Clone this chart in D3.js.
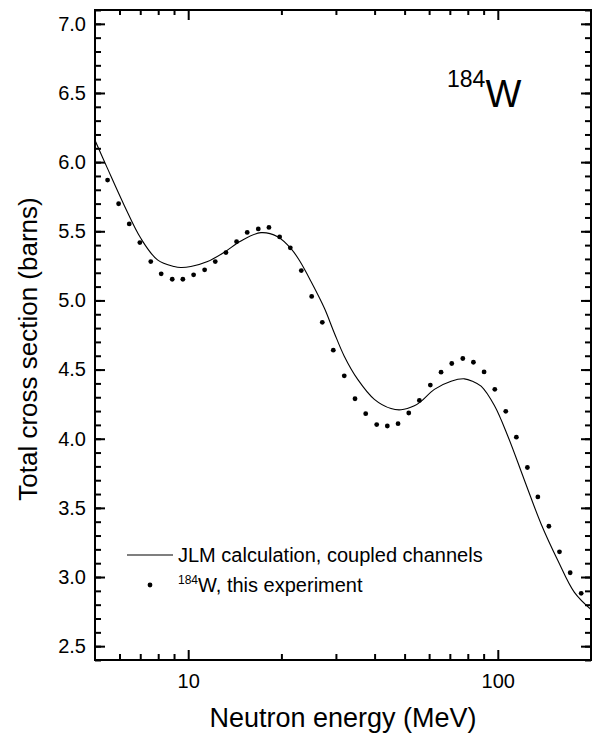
<!DOCTYPE html>
<html>
<head>
<meta charset="utf-8">
<script src="https://cdn.jsdelivr.net/npm/d3@7"></script>
<style>
  body { margin: 0; background: #fff; }
  svg { display: block; font-family: Arial, "Liberation Sans", sans-serif; }
</style>
</head>
<body>
<svg id="chart" width="598" height="735"></svg>
<script>
// measured points, 184W total cross section
var expEnergy = [5.49, 5.96, 6.45, 6.98, 7.57, 8.18, 8.88, 9.61, 10.41, 11.30,
  12.23, 13.24, 14.33, 15.51, 16.84, 18.23, 19.74, 21.37, 23.19, 25.05,
  27.11, 29.42, 31.92, 34.58, 37.44, 40.63, 43.97, 47.62, 51.57, 55.80,
  60.55, 65.57, 71.01, 77.08, 83.41, 90.30, 97.79, 106.1, 114.8, 124.6,
  134.7, 146.2, 158.2, 171.3, 185.9];
var expSigma = [5.870, 5.699, 5.553, 5.418, 5.281, 5.192, 5.153, 5.153, 5.185, 5.221,
  5.281, 5.346, 5.425, 5.492, 5.517, 5.528, 5.459, 5.380, 5.216, 5.029,
  4.842, 4.640, 4.455, 4.289, 4.181, 4.102, 4.092, 4.109, 4.186, 4.277,
  4.388, 4.481, 4.544, 4.580, 4.553, 4.483, 4.357, 4.198, 4.011, 3.792,
  3.579, 3.367, 3.182, 3.031, 2.882];

// JLM calculation, coupled channels
var calcEnergy = [5.0, 5.49, 6.21, 7.03, 7.96, 9.01, 9.47, 10.20, 11.55, 13.07,
  14.80, 17.18, 19.45, 21.48, 22.85, 24.93, 27.52, 29.64, 31.92, 35.28,
  39.93, 45.20, 48.70, 53.76, 56.50, 62.39, 70.65, 78.00, 83.0, 88.31,
  97.5, 107.7, 121.9, 138.0, 156.3, 176.8, 200];
var calcSigma = [6.158, 5.953, 5.689, 5.449, 5.293, 5.245, 5.238, 5.245, 5.281, 5.348,
  5.430, 5.490, 5.461, 5.375, 5.290, 5.137, 4.945, 4.765, 4.597, 4.429,
  4.285, 4.218, 4.209, 4.238, 4.270, 4.357, 4.416, 4.433, 4.415, 4.380,
  4.240, 4.020, 3.700, 3.384, 3.120, 2.889, 2.765];

var xMajor = [10, 100];
var xMinor = [6, 7, 8, 9, 20, 30, 40, 50, 60, 70, 80, 90];
var yMajor = [2.5, 3.0, 3.5, 4.0, 4.5, 5.0, 5.5, 6.0, 6.5, 7.0];
var yMinor = d3.range(24, 72).map(function (d) { return d / 10; });

var svg = d3.select("#chart"),
  margin = { top: 10, right: 7, bottom: 75, left: 95 },
  width = +svg.attr("width") - margin.left - margin.right,
  height = +svg.attr("height") - margin.top - margin.bottom,
  g = svg.append("g").attr("transform", "translate(" + margin.left + "," + margin.top + ")");

var x = d3.scaleLog().domain([5, 200]).range([0, width]);
var y = d3.scaleLinear().domain([2.4, 7.1]).range([height, 0]);

function tidy(sel) {
  sel.select(".domain").remove();
  sel.selectAll("line").attr("stroke", "#000").attr("stroke-width", 2);
  sel.selectAll("text").attr("fill", "#000").style("font-size", "20px");
}

// bottom / top
g.append("g").attr("transform", "translate(0," + height + ")")
  .call(d3.axisBottom(x).tickValues(xMajor).tickSize(-10).tickPadding(14).tickFormat(d3.format("d")))
  .call(tidy);
g.append("g").attr("transform", "translate(0," + height + ")")
  .call(d3.axisBottom(x).tickValues(xMinor).tickSize(-6).tickFormat(""))
  .call(tidy);
g.append("g")
  .call(d3.axisTop(x).tickValues(xMajor).tickSize(-10).tickFormat(""))
  .call(tidy);
g.append("g")
  .call(d3.axisTop(x).tickValues(xMinor).tickSize(-5).tickFormat(""))
  .call(tidy);

// left / right
g.append("g")
  .call(d3.axisLeft(y).tickValues(yMajor).tickSize(-10).tickPadding(9).tickFormat(d3.format(".1f")))
  .call(tidy);
g.append("g")
  .call(d3.axisLeft(y).tickValues(yMinor).tickSize(-6).tickFormat(""))
  .call(tidy);
g.append("g").attr("transform", "translate(" + width + ",0)")
  .call(d3.axisRight(y).tickValues(yMajor).tickSize(-10).tickFormat(""))
  .call(tidy);
g.append("g").attr("transform", "translate(" + width + ",0)")
  .call(d3.axisRight(y).tickValues(yMinor).tickSize(-6).tickFormat(""))
  .call(tidy);

// frame
g.append("rect")
  .attr("width", width).attr("height", height)
  .attr("fill", "none").attr("stroke", "#000").attr("stroke-width", 2);

svg.append("defs").append("clipPath").attr("id", "clip")
  .append("rect").attr("width", width).attr("height", height);

var calc = calcEnergy.map(function (e, i) { return [e, calcSigma[i]]; });
var line = d3.line()
  .x(function (d) { return x(d[0]); })
  .y(function (d) { return y(d[1]); })
  .curve(d3.curveCatmullRom.alpha(0.5));

g.append("path")
  .datum(calc)
  .attr("clip-path", "url(#clip)")
  .attr("fill", "none")
  .attr("stroke", "#000")
  .attr("stroke-width", 1.1)
  .attr("d", line);

g.append("g").selectAll("circle")
  .data(expEnergy)
  .enter().append("circle")
  .attr("cx", function (d) { return x(d); })
  .attr("cy", function (d, i) { return y(expSigma[i]); })
  .attr("r", 2.4)
  .attr("fill", "#000");

// axis titles
svg.append("text")
  .attr("x", margin.left + width / 2)
  .attr("y", 727)
  .attr("text-anchor", "middle")
  .style("font-size", "27px")
  .text("Neutron energy (MeV)");

svg.append("text")
  .attr("transform", "translate(37," + (margin.top + height / 2 + 14) + ")rotate(-90)")
  .attr("text-anchor", "middle")
  .style("font-size", "26px")
  .text("Total cross section (barns)");

// isotope label
var iso = svg.append("text").attr("x", 447).attr("y", 107);
iso.append("tspan").attr("dy", -20).style("font-size", "23px").text("184");
iso.append("tspan").attr("dy", 20).style("font-size", "38px").text("W");

// legend
var legend = svg.append("g");
legend.append("line")
  .attr("x1", 127).attr("x2", 173).attr("y1", 555).attr("y2", 555)
  .attr("stroke", "#000").attr("stroke-width", 1.1);
legend.append("text").attr("x", 178).attr("y", 562)
  .style("font-size", "20px")
  .text("JLM calculation, coupled channels");
legend.append("circle").attr("cx", 150).attr("cy", 585).attr("r", 2.4).attr("fill", "#000");
var lt = legend.append("text").attr("x", 178).attr("y", 592);
lt.append("tspan").attr("dy", -8).style("font-size", "12px").text("184");
lt.append("tspan").attr("dy", 8).style("font-size", "20px").text("W, this experiment");
</script>
</body>
</html>
